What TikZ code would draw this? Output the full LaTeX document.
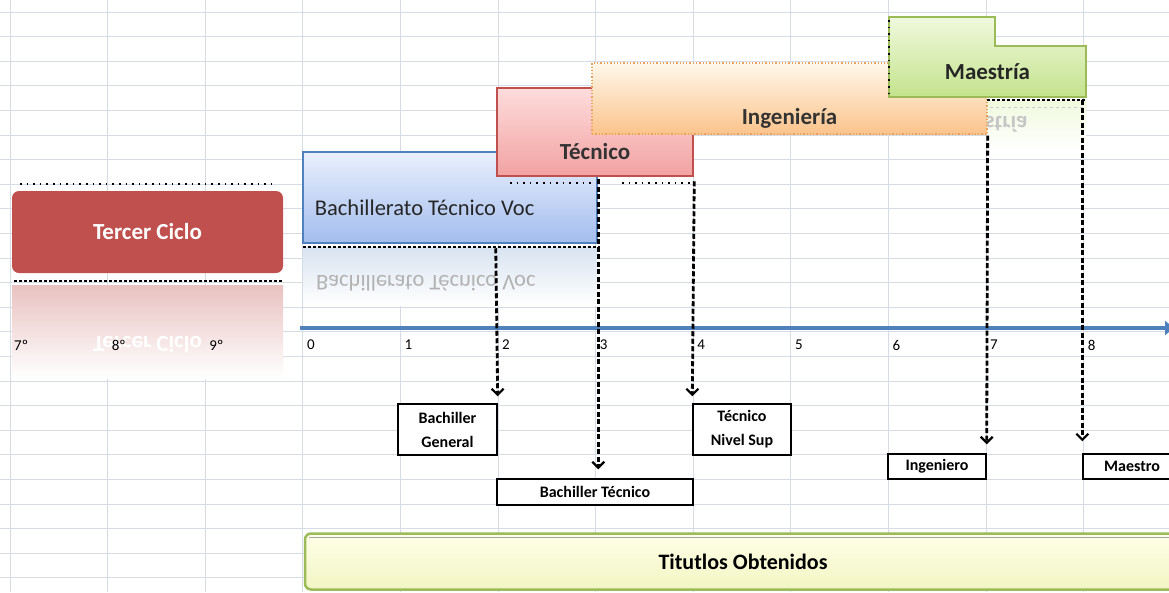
\documentclass[tikz,border=0pt]{standalone}
\usepackage{fontspec}
\setmainfont{Carlito}
\usepackage{tikz}
\usetikzlibrary{arrows.meta, positioning, calc}
\definecolor{gridgris}{HTML}{D5DCE6}
\definecolor{cicloroja}{HTML}{C0504D}
\definecolor{bachazul}{HTML}{4F81BD}
\definecolor{bachclaro}{HTML}{E9F0FC}
\definecolor{bachoscuro}{HTML}{A3BDEE}
\definecolor{tecclaro}{HTML}{FFDCDC}
\definecolor{tecoscuro}{HTML}{F2A2A2}
\definecolor{ingclaro}{HTML}{FFF7EA}
\definecolor{ingoscuro}{HTML}{FBC48C}
\definecolor{ingborde}{HTML}{E9A15E}
\definecolor{maesclaro}{HTML}{F0F9DE}
\definecolor{maesoscuro}{HTML}{C4E38C}
\definecolor{maesborde}{HTML}{9BBB59}
\definecolor{titclaro}{HTML}{FFFFE8}
\definecolor{titoscuro}{HTML}{F2F5C2}

\begin{document}
\begin{tikzpicture}[x=1pt, y=-1pt,
  rejilla/.style={draw=gridgris, line width=1pt},
  puntos/.style={draw=black, line width=1.6pt, dash pattern=on 1.6pt off 5pt},
  flecha/.style={draw=black, line width=2.8pt, dash pattern=on 5pt off 2.5pt,
    -{Straight Barb[length=6pt, width=12pt, line width=2.2pt]}},
  negrita/.style={font=\fontsize{23}{27}\selectfont\bfseries, inner sep=0pt},
  titulo/.style={draw=black, line width=1.4pt, fill=white, align=center,
    inner sep=0pt, font=\fontsize{16}{24}\selectfont\bfseries},
  numero/.style={anchor=west, inner sep=0pt, font=\fontsize{15}{17}\selectfont}]
  \def\cw{97.6} % ancho de columna
  \def\rh{24.6} % alto de fila
  \useasboundingbox (0,0) rectangle (1169,592);
  \clip (0,0) rectangle (1169,592);
  % hoja
  \foreach \c in {0,...,11}
    \draw[rejilla] ({10+\cw*\c},0) -- ({10+\cw*\c},592);
  \foreach \r in {0,...,23}
    \draw[rejilla] (0,{12+\rh*\r}) -- (1169,{12+\rh*\r});
  % tercer ciclo y su reflejo
  \fill[top color=cicloroja!35, bottom color=white] (12,285) rectangle (283,378);
  \node[negrita, yscale=-1, text=white] (tercerref) at (147.5,344) {Tercer Ciclo};
  \node[fill=cicloroja, rounded corners=7pt, minimum width=271pt, minimum height=82pt,
        text=white, negrita] (tercer) at (147.5,232) {Tercer Ciclo};
  \draw[puntos] (20,184) -- (272,184);
  \draw[puntos, dash pattern=on 3pt off 2pt] (14,281) -- (283,281);
  % bachillerato
  \fill[top color=bachazul!22, bottom color=white] (303,247) rectangle (597,305);
  \node[yscale=-1, anchor=west, text=gray!60, inner sep=0pt,
        font=\fontsize{22.5}{26}\selectfont] (bachref) at (316,283) {Bachillerato Técnico Voc};
  \node[draw=bachazul, line width=2.5pt, top color=bachclaro, bottom color=bachoscuro,
        minimum width=294pt, minimum height=91pt] (bach) at (450,197.5) {};
  \node[anchor=west, inner sep=0pt, text=black!85, font=\fontsize{22.5}{26}\selectfont]
        (bachtxt) at ([xshift=13pt, yshift=-10pt]bach.west) {Bachillerato Técnico Voc};
  \draw[puntos, dash pattern=on 3pt off 2pt] (303,247) -- (600,247);
  % tecnico
  \node[draw=cicloroja, line width=2.5pt, top color=tecclaro, bottom color=tecoscuro,
        minimum width=196pt, minimum height=88pt] (tec) at (595,132) {};
  \node[negrita, text=black!80] (tectxt) at ([yshift=-20pt]tec.center) {Técnico};
  \draw[puntos] (510,183) -- (595,183);
  \draw[puntos] (622,183) -- (690,183);
  % reflejo de maestria
  \fill[top color=maesclaro, bottom color=white] (987,100) rectangle (1086,152);
  \node[negrita, yscale=-1, text=gray!45] (maesref) at (985,124) {Maestría};
  \draw[gray!40, dashed, line width=1pt] (990,107) -- (1086,107);
  % ingenieria
  \node[draw=ingborde, dotted, line width=1.3pt, top color=ingclaro, bottom color=ingoscuro,
        minimum width=395pt, minimum height=71pt] (ing) at (789.5,98.5) {};
  \node[negrita, text=black!80] (ingtxt) at ([yshift=-19.5pt]ing.center) {Ingeniería};
  % maestria
  \path[draw=maesborde, line width=2pt, top color=maesclaro, bottom color=maesoscuro]
    (889,17) -- (995,17) -- (995,46) -- (1086,46) -- (1086,97) -- (889,97) -- cycle;
  \node[negrita, text=black!85, minimum width=197pt, minimum height=51pt]
        (maes) at (987.5,71.5) {Maestría};
  \draw[puntos] (889,20) -- (889,95);
  \draw[puntos, dash pattern=on 3pt off 2pt] (987,100) -- (1086,100);
  % eje
  \coordinate (ejeini) at (300,328);
  \coordinate (ejefin) at (1174,328);
  \draw[bachazul, line width=4pt, -{Triangle[length=9pt, width=14pt]}] (ejeini) -- (ejefin);
  \foreach \n in {0,...,8}
    \node[numero] (num\n) at ({302.8+\cw*\n+4},345) {\n};
  \foreach \g/\t in {0/7º, 1/8º, 2/9º}
    \node[numero] (grado\g) at ({10+\cw*\g+4},345) {\t};
  % titulos obtenidos
  \node[titulo, minimum width=99pt, minimum height=51pt] (bgen) at (447.5,429.5) {Bachiller\\General};
  \node[titulo, minimum width=98pt, minimum height=51pt] (tns) at (742,429.5) {Técnico\\Nivel Sup};
  \node[titulo, minimum width=196pt, minimum height=26pt] (btec) at (595,492) {Bachiller Técnico};
  \node[titulo, minimum width=98pt, minimum height=25pt] (ingr) at (937,466.5) {Ingeniero};
  \node[titulo, minimum width=98pt, minimum height=25pt] (maestro) at (1132,466.5) {Maestro};
  % flechas
  \draw[flecha] ([yshift=-4pt]bach.south -| tec.west) -- ([yshift=7pt]bgen.north east);
  \draw[flecha] ([yshift=-2pt]tec.south -| bach.east) -- ([yshift=9pt]btec.north -| bach.east);
  \draw[flecha] ([yshift=-4pt]tec.south east) -- ([yshift=7pt]tns.north west);
  \draw[flecha] ([yshift=-1pt]ing.south east) -- ([yshift=9pt]ingr.north east);
  \draw[flecha] ([yshift=-3pt]maes.south -| maestro.west) -- ([yshift=12pt]maestro.north west);
  % barra inferior
  \node[draw=maesborde, line width=2.5pt, rounded corners=6pt, top color=titclaro,
        bottom color=titoscuro, minimum width=876pt, minimum height=56pt,
        font=\fontsize{22}{26}\selectfont\bfseries] (tit) at (743,561.5) {Titutlos Obtenidos};
  \draw[gray!70, line width=1.2pt, rounded corners=4pt]
    ([xshift=5pt, yshift=-5pt]tit.north west) -- ([xshift=-5pt, yshift=-5pt]tit.north east);
\end{tikzpicture}
\end{document}
